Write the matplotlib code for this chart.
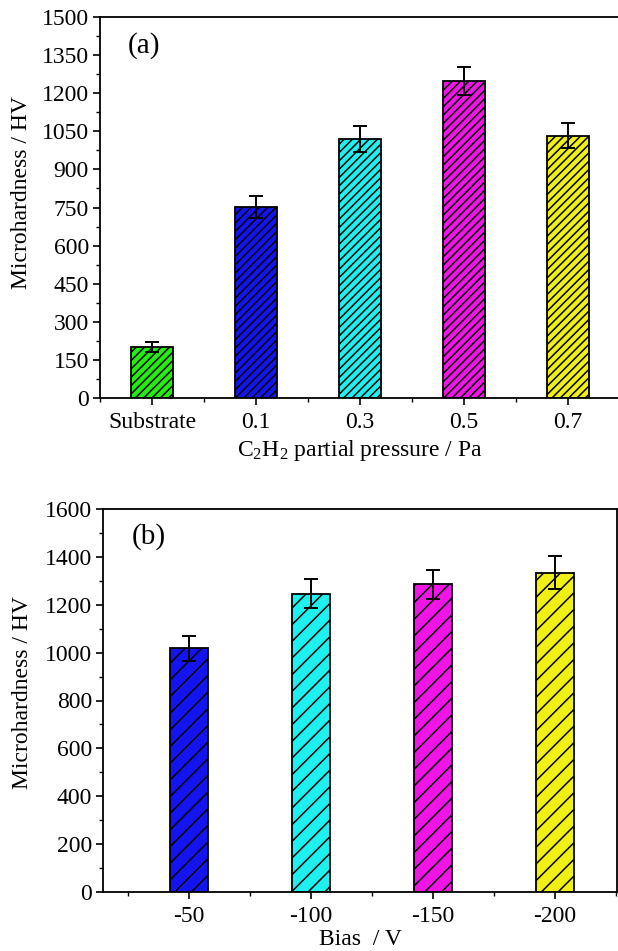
import matplotlib
matplotlib.use("Agg")
import matplotlib.pyplot as plt
from matplotlib.ticker import MultipleLocator

plt.rcParams['font.family'] = ['Liberation Serif', 'DejaVu Serif']
plt.rcParams['mathtext.fontset'] = 'custom'
plt.rcParams['mathtext.rm'] = 'Liberation Serif'
plt.rcParams['mathtext.it'] = 'Liberation Serif:italic'
plt.rcParams['hatch.linewidth'] = 1.1

# Panel (a)
cats_a = ['Substrate', '0.1', '0.3', '0.5', '0.7']
vals_a = [200, 752, 1020, 1248, 1033]
errs_a = [20, 45, 50, 54, 50]
colors_a = ['#22ee11', '#1414f0', '#1ef0f0', '#f014e6', '#f0f014']

# Panel (b)
cats_b = ['-50', '-100', '-150', '-200']
vals_b = [1018, 1246, 1286, 1334]
errs_b = [53, 60, 60, 70]
colors_b = ['#1414f0', '#1ef0f0', '#f014e6', '#f0f014']

W, H = 618, 951
fig = plt.figure(figsize=(W/100, H/100), dpi=100)

ax1 = fig.add_axes([100/W, 1-398/H, 520/W, 381/H])
ax2 = fig.add_axes([103/W, 1-892/H, 514/W, 383/H])

FS = 17

def style(ax, ymax, major, minor, xlim):
    ax.set_ylim(0, ymax)
    ax.set_xlim(*xlim)
    ax.yaxis.set_major_locator(MultipleLocator(major))
    ax.yaxis.set_minor_locator(MultipleLocator(minor))
    ax.xaxis.set_minor_locator(MultipleLocator(0.5))
    ax.tick_params(axis='both', which='major', direction='out', length=5, width=1.2,
                   labelsize=FS, pad=3)
    ax.tick_params(axis='x', which='major', pad=5)
    ax.tick_params(axis='both', which='minor', direction='out', length=3, width=1.0)
    ax.tick_params(top=False, right=False, which='both')
    for s in ax.spines.values():
        s.set_linewidth(1.3)

x_a = list(range(len(cats_a)))
ax1.bar(x_a, vals_a, width=0.41, color=colors_a, edgecolor='black', linewidth=1.3,
        hatch='////', zorder=2)
ax1.errorbar(x_a, vals_a, yerr=errs_a, fmt='none', ecolor='black', elinewidth=1.4,
             capsize=5, capthick=1.4, zorder=3)
style(ax1, 1500, 150, 75, (-0.5, 4.5))
ax1.set_xticks(x_a)
ax1.set_xticklabels(cats_a)
ax1.set_ylabel('Microhardness / HV', fontsize=FS)
ax1.yaxis.set_label_coords(-0.131, 0.538)
ax1.set_xlabel(r'C$_2$H$_2$ partial pressure / Pa', fontsize=FS)
ax1.xaxis.set_label_coords(0.5, -0.105)
ax1.text(0.054, 0.925, '(a)', transform=ax1.transAxes, fontsize=21, va='center', ha='left')

x_b = list(range(len(cats_b)))
ax2.bar(x_b, vals_b, width=0.31, color=colors_b, edgecolor='black', linewidth=1.3,
        hatch='//', zorder=2)
ax2.errorbar(x_b, vals_b, yerr=errs_b, fmt='none', ecolor='black', elinewidth=1.4,
             capsize=5, capthick=1.4, zorder=3)
style(ax2, 1600, 200, 100, (-0.705, 3.508))
ax2.set_xticks(x_b)
ax2.set_xticklabels(cats_b)
ax2.set_ylabel('Microhardness / HV', fontsize=FS)
ax2.yaxis.set_label_coords(-0.136, 0.52)
ax2.set_xlabel('Bias  / V', fontsize=FS)
ax2.xaxis.set_label_coords(0.5, -0.097)
ax2.text(0.056, 0.927, '(b)', transform=ax2.transAxes, fontsize=21, va='center', ha='left')

fig.savefig('out.png', dpi=100)
